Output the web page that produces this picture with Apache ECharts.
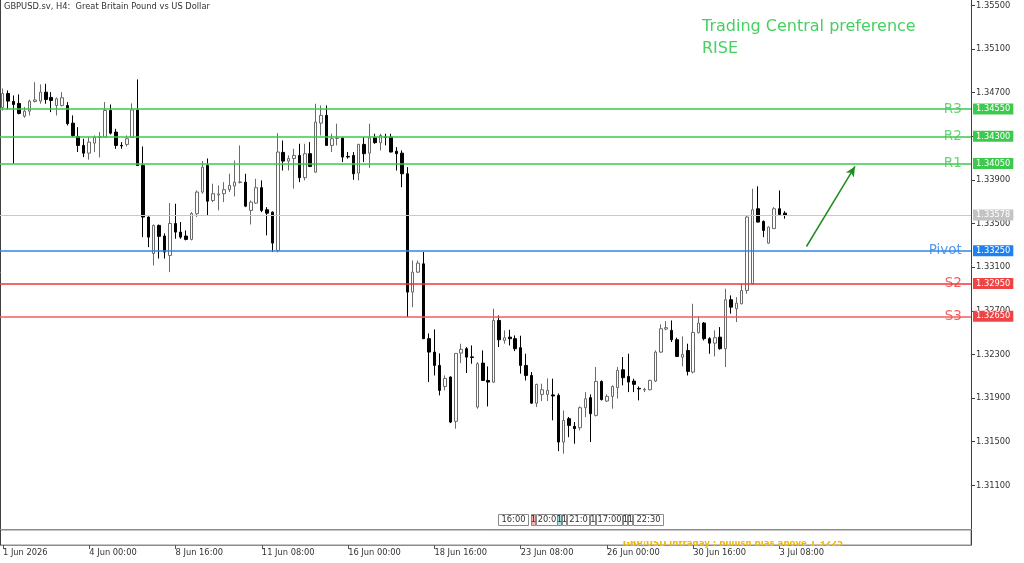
<!DOCTYPE html>
<html>
<head>
	<meta charset="UTF-8">
	<title>GBPUSD.sv, H4</title>
	<style>
		html, body { margin: 0; padding: 0; background: #fff; }
		#main { width: 1024px; height: 563px; }
	</style>
</head>
<body>
	<div id="main"></div>
	<script src="https://cdn.jsdelivr.net/npm/echarts@6/dist/echarts.min.js"></script>
	<script>
		// H4 bars, 1 Jun 08:00 .. 3 Jul 12:00
		var opens = [
			1.34565, 1.34693, 1.34620, 1.34602, 1.34485, 1.34531, 1.34620, 1.34623, 1.34705, 1.34657,
			1.34583, 1.34583, 1.34583, 1.34421, 1.34299, 1.34217, 1.34146, 1.34238, 1.34290, 1.34293,
			1.34537, 1.34339, 1.34217, 1.34226, 1.34290, 1.34542, 1.34033, 1.33560, 1.33226, 1.33483,
			1.33386, 1.33208, 1.33501, 1.33422, 1.33386, 1.33355, 1.33591, 1.33789, 1.34033, 1.33712,
			1.33763, 1.33774, 1.33811, 1.33844, 1.33877, 1.33880, 1.33621, 1.33688, 1.33829, 1.33627,
			1.33605, 1.33254, 1.34153, 1.34073, 1.34097, 1.34125, 1.33921, 1.34141, 1.33972, 1.34421,
			1.34492, 1.34217, 1.34281, 1.34284, 1.34116, 1.34125, 1.33963, 1.34226, 1.34146, 1.34287,
			1.34242, 1.34295, 1.34293, 1.34164, 1.34146, 1.33957, 1.32872, 1.33055, 1.33131, 1.32445,
			1.32322, 1.32200, 1.32007, 1.32093, 1.31687, 1.32313, 1.32353, 1.32278, 1.31818, 1.32221,
			1.32062, 1.32047, 1.32612, 1.32429, 1.32459, 1.32445, 1.32362, 1.32200, 1.32108, 1.31854,
			1.31934, 1.31934, 1.31929, 1.31925, 1.31497, 1.31711, 1.31641, 1.31629, 1.31812, 1.31904,
			1.31742, 1.32053, 1.31873, 1.31916, 1.31995, 1.32160, 1.32099, 1.32056, 1.31989, 1.31975,
			1.31977, 1.32056, 1.32322, 1.32533, 1.32521, 1.32435, 1.32276, 1.32337, 1.32139, 1.32500,
			1.32588, 1.32445, 1.32404, 1.32459, 1.32353, 1.32802, 1.32720, 1.32765, 1.32887, 1.32949,
			1.33636, 1.33520, 1.33321, 1.33454, 1.33636, 1.33596
		];
		var closes = [
			1.34693, 1.34623, 1.34592, 1.34510, 1.34531, 1.34623, 1.34634, 1.34705, 1.34638, 1.34629,
			1.34645, 1.34654, 1.34416, 1.34308, 1.34217, 1.34146, 1.34247, 1.34293, 1.34295, 1.34537,
			1.34329, 1.34217, 1.34212, 1.34278, 1.34542, 1.34033, 1.33560, 1.33376, 1.33483, 1.33383,
			1.33239, 1.33501, 1.33422, 1.33376, 1.33355, 1.33593, 1.33789, 1.34018, 1.33706, 1.33774,
			1.33772, 1.33811, 1.33850, 1.33880, 1.33882, 1.33660, 1.33697, 1.33829, 1.33621, 1.33596,
			1.33321, 1.34156, 1.34073, 1.34097, 1.34125, 1.33921, 1.34141, 1.34024, 1.34431, 1.34492,
			1.34217, 1.34278, 1.34285, 1.34110, 1.34111, 1.33957, 1.34226, 1.34141, 1.34287, 1.34242,
			1.34308, 1.34290, 1.34156, 1.34141, 1.33957, 1.32872, 1.33055, 1.33138, 1.32445, 1.32322,
			1.32200, 1.31971, 1.32081, 1.31680, 1.32310, 1.32347, 1.32276, 1.32273, 1.32215, 1.32062,
			1.32047, 1.32612, 1.32435, 1.32454, 1.32445, 1.32353, 1.32200, 1.32108, 1.31854, 1.32026,
			1.31977, 1.31971, 1.31920, 1.31497, 1.31696, 1.31650, 1.31620, 1.31812, 1.31894, 1.31757,
			1.32053, 1.31886, 1.31916, 1.32007, 1.32154, 1.32087, 1.32047, 1.32026, 1.31984, 1.31980,
			1.32062, 1.32322, 1.32536, 1.32546, 1.32435, 1.32282, 1.32301, 1.32145, 1.32502, 1.32588,
			1.32445, 1.32404, 1.32454, 1.32353, 1.32802, 1.32734, 1.32771, 1.32887, 1.33560, 1.33627,
			1.33514, 1.33437, 1.33468, 1.33636, 1.33584, 1.33578
		];
		var lows = [
			1.34537, 1.34546, 1.34051, 1.34501, 1.34470, 1.34492, 1.34611, 1.34599, 1.34599, 1.34522,
			1.34492, 1.34574, 1.34400, 1.34293, 1.34156, 1.34110, 1.34086, 1.34156, 1.34107, 1.34290,
			1.34317, 1.34186, 1.34186, 1.34207, 1.34285, 1.34029, 1.33376, 1.33284, 1.33117, 1.33180,
			1.33180, 1.33055, 1.33361, 1.33361, 1.33346, 1.33346, 1.33560, 1.33774, 1.33575, 1.33697,
			1.33621, 1.33697, 1.33789, 1.33749, 1.33868, 1.33651, 1.33492, 1.33682, 1.33605, 1.33392,
			1.33239, 1.33236, 1.33987, 1.33987, 1.33820, 1.33880, 1.33896, 1.34018, 1.33969, 1.34308,
			1.34212, 1.34156, 1.34217, 1.34064, 1.34095, 1.33902, 1.33896, 1.34064, 1.34012, 1.34232,
			1.34171, 1.34217, 1.34153, 1.33987, 1.33834, 1.32643, 1.32734, 1.33046, 1.32441, 1.32047,
			1.32108, 1.31925, 1.31971, 1.31671, 1.31620, 1.32221, 1.32130, 1.32215, 1.31803, 1.32058,
			1.31824, 1.32038, 1.32368, 1.32399, 1.32383, 1.32331, 1.32124, 1.32062, 1.31849, 1.31818,
			1.31873, 1.31873, 1.31696, 1.31414, 1.31390, 1.31542, 1.31482, 1.31604, 1.31726, 1.31497,
			1.31732, 1.31879, 1.31864, 1.31803, 1.31895, 1.32017, 1.31955, 1.31955, 1.31879, 1.31955,
			1.31971, 1.32047, 1.32313, 1.32521, 1.32414, 1.32276, 1.32191, 1.32108, 1.32126, 1.32493,
			1.32429, 1.32307, 1.32282, 1.32344, 1.32185, 1.32674, 1.32597, 1.32759, 1.32857, 1.32942,
			1.33511, 1.33376, 1.33315, 1.33450, 1.33575, 1.33545
		];
		var highs = [
			1.34739, 1.34721, 1.34675, 1.34684, 1.34568, 1.34636, 1.34797, 1.34776, 1.34782, 1.34705,
			1.34657, 1.34705, 1.34614, 1.34492, 1.34384, 1.34278, 1.34293, 1.34308, 1.34339, 1.34614,
			1.34592, 1.34369, 1.34247, 1.34308, 1.34602, 1.34822, 1.34207, 1.33566, 1.33492, 1.33492,
			1.33410, 1.33688, 1.33682, 1.33514, 1.33437, 1.33605, 1.33804, 1.34073, 1.34097, 1.33866,
			1.33850, 1.33880, 1.33957, 1.34079, 1.34217, 1.33957, 1.33712, 1.33911, 1.33896, 1.33651,
			1.33612, 1.34329, 1.34262, 1.34125, 1.34186, 1.34232, 1.34232, 1.34247, 1.34599, 1.34583,
			1.34583, 1.34324, 1.34416, 1.34293, 1.34156, 1.34156, 1.34232, 1.34293, 1.34416, 1.34324,
			1.34324, 1.34324, 1.34324, 1.34201, 1.34171, 1.34018, 1.33162, 1.33162, 1.33239, 1.32493,
			1.32530, 1.32310, 1.32108, 1.32099, 1.32313, 1.32399, 1.32368, 1.32383, 1.32230, 1.32337,
			1.32191, 1.32720, 1.32658, 1.32521, 1.32527, 1.32475, 1.32472, 1.32307, 1.32139, 1.32032,
			1.32032, 1.32081, 1.32078, 1.31943, 1.31787, 1.31727, 1.31681, 1.31824, 1.31955, 1.31934,
			1.32185, 1.32062, 1.31934, 1.32017, 1.32185, 1.32276, 1.32307, 1.32078, 1.32007, 1.31995,
			1.32069, 1.32337, 1.32576, 1.32606, 1.32612, 1.32454, 1.32466, 1.32399, 1.32765, 1.32649,
			1.32597, 1.32459, 1.32521, 1.32551, 1.32903, 1.32842, 1.32826, 1.32949, 1.33575, 1.33820,
			1.33841, 1.33529, 1.33474, 1.33651, 1.33804, 1.33614
		];

		var tickLabels = ['1 Jun 2026', '4 Jun 00:00', '8 Jun 16:00', '11 Jun 08:00', '16 Jun 00:00',
			'18 Jun 16:00', '23 Jun 08:00', '26 Jun 00:00', '30 Jun 16:00', '3 Jul 08:00'];
		var tickStep = 16;
		var slotCount = 180; // bars + empty space to the right

		var levelNames = ['R3', 'R2', 'R1', 'Pivot', 'S2', 'S3'];
		var levelValues = [1.3455, 1.3430, 1.3405, 1.3325, 1.3295, 1.3265];
		var lastPrice = 1.33578;

		// trend arrow, [bar index, price]
		var arrowFrom = [149, 1.33290];
		var arrowTo = [158, 1.34024];

		var levelLineColors = ['#3cc94e', '#3cc94e', '#3cc94e', '#2f86ea', '#ee3535', '#f25e5e'];
		var levelBoxColors = ['#3cc94e', '#3cc94e', '#3cc94e', '#1f80f0', '#f04444', '#f04444'];
		var levelTextColors = ['#3ecb55', '#3ecb55', '#3ecb55', '#2f82e6', '#ec3a3a', '#ec3a3a'];

		var FONT = '"DejaVu Sans", Tahoma, sans-serif';

		var slots = [];
		for (var i = 0; i < slotCount; i++) slots.push(i);

		var candles = [];
		for (var i = 0; i < opens.length; i++) {
			candles.push([opens[i], closes[i], lows[i], highs[i]]);
		}

		var lineItems = [];
		var nameItems = [];
		for (var i = 0; i < levelValues.length; i++) {
			lineItems.push({
				yAxis: levelValues[i],
				lineStyle: { color: levelLineColors[i], width: 1.6, type: 'solid' },
				label: { backgroundColor: levelBoxColors[i], formatter: levelValues[i].toFixed(5) }
			});
			nameItems.push({
				value: [slotCount - 1, levelValues[i]],
				label: { color: levelTextColors[i], formatter: levelNames[i] }
			});
		}
		lineItems.unshift({
			yAxis: lastPrice,
			lineStyle: { color: '#c9c9c9', width: 1, type: 'solid' },
			label: { backgroundColor: '#c3c3c3', formatter: lastPrice.toFixed(5) }
		});

		function showTick(idx) {
			return idx % tickStep === 0 && idx / tickStep < tickLabels.length;
		}

		// time markers strip near the bottom
		var markerTexts = ['16:00', '1', '20:0', '1', '1', '21:0', '1', '17:00', '1', '1', '22:30'];
		var markerX = [498, 531, 536, 557, 562, 567, 590, 596, 623, 628, 633];
		var markerW = [30, 4, 21, 4, 4, 22, 5, 26, 4, 4, 30];
		var markerFill = ['#fff', '#f4b4b4', '#fff', '#a8e0e0', '#fff', '#fff', '#fff', '#fff', '#fff', '#fff', '#fff'];

		var graphics = [
			{ type: 'line', shape: { x1: 0.5, y1: 0, x2: 0.5, y2: 545 }, style: { stroke: '#404040', lineWidth: 1 } },
			{ type: 'text', x: 4, y: 7, style: { text: 'GBPUSD.sv, H4:  Great Britain Pound vs US Dollar', font: '8.3px ' + FONT, fill: '#333', verticalAlign: 'middle' } },
			{ type: 'text', x: 702, y: 27, style: { text: 'Trading Central preference', font: '16px ' + FONT, fill: '#47cf62', verticalAlign: 'middle' } },
			{ type: 'text', x: 702, y: 49, style: { text: 'RISE', font: '16px ' + FONT, fill: '#47cf62', verticalAlign: 'middle' } },
			{ type: 'text', x: 623, y: 543.5, z: 1, style: { text: 'GBP/USD intraday : bullish bias above 1.3225', font: 'bold 8.6px ' + FONT, fill: '#f2b705', verticalAlign: 'middle' } },
			{ type: 'rect', z: 2, shape: { x: 600, y: 531, width: 250, height: 10 }, style: { fill: '#fff' } }
		];
		for (var i = 0; i < markerTexts.length; i++) {
			graphics.push({
				type: 'rect', z: 3,
				shape: { x: markerX[i] + 0.5, y: 514.5, width: markerW[i], height: 11 },
				style: { fill: markerFill[i], stroke: '#8a8a8a', lineWidth: 1 }
			});
			graphics.push({
				type: 'text', z: 4,
				x: markerX[i] + markerW[i] / 2 + 0.5, y: 520,
				style: { text: markerTexts[i], font: '8.3px ' + FONT, fill: '#333', align: 'center', verticalAlign: 'middle' }
			});
		}

		var option = {
			animation: false,
			textStyle: { fontFamily: FONT },
			graphic: graphics,
			grid: [
				{ left: -1.2, right: 53, top: 0, height: 529 },
				{ left: -1.2, right: 53, top: 530, height: 15, show: true, borderColor: '#8c8c8c', borderWidth: 1 }
			],
			xAxis: [
				{
					type: 'category', gridIndex: 0, data: slots, boundaryGap: true,
					axisLine: { show: true, lineStyle: { color: '#8c8c8c', width: 1 } },
					axisTick: { show: false }, axisLabel: { show: false }, splitLine: { show: false }
				},
				{
					type: 'category', gridIndex: 1, data: slots, boundaryGap: true,
					axisLine: { show: true, lineStyle: { color: '#8c8c8c', width: 1 } },
					axisTick: { show: true, alignWithLabel: true, interval: showTick, length: 4, lineStyle: { color: '#555' } },
					axisLabel: {
						interval: showTick, align: 'left', margin: 4, fontSize: 8.3, color: '#333',
						formatter: function (v, idx) { return tickLabels[idx / tickStep] || ''; }
					},
					splitLine: { show: false }
				}
			],
			yAxis: [
				{
					type: 'value', gridIndex: 0, position: 'right', scale: true,
					min: 1.307, max: 1.3555, interval: 0.004,
					axisLine: { show: true, lineStyle: { color: '#404040' } },
					axisTick: { show: true, length: 4, lineStyle: { color: '#404040' } },
					axisLabel: {
						margin: 5, fontSize: 8.3, color: '#333', showMinLabel: false, showMaxLabel: false,
						formatter: function (v) { return v.toFixed(5); }
					},
					splitLine: { show: false }
				},
				{
					type: 'value', gridIndex: 1, position: 'right',
					axisLine: { show: true, lineStyle: { color: '#404040' } },
					axisTick: { show: false }, axisLabel: { show: false }, splitLine: { show: false }
				}
			],
			series: [
				{
					type: 'candlestick',
					xAxisIndex: 0, yAxisIndex: 0,
					data: candles,
					barWidth: 3,
					itemStyle: {
						color: '#ffffff', color0: '#000000',
						borderColor: '#6a6a6a', borderColor0: '#000000', borderWidth: 1
					},
					markLine: {
						silent: true, symbol: ['none', 'none'], animation: false, precision: 5,
						label: {
							show: true, position: 'end', distance: 2, color: '#fff',
							fontSize: 8.3, padding: [2, 3, 1, 3]
						},
						data: lineItems
					}
				},
				{
					type: 'scatter',
					xAxisIndex: 0, yAxisIndex: 0,
					symbolSize: 1,
					itemStyle: { color: 'rgba(0,0,0,0)' },
					label: { show: true, position: 'left', distance: 6, fontSize: 13.5 },
					silent: true,
					data: nameItems
				},
				{
					type: 'line',
					xAxisIndex: 0, yAxisIndex: 0,
					data: [],
					markLine: {
						silent: true, symbol: ['none', 'arrow'], symbolSize: [7, 10], precision: 5,
						label: { show: false },
						lineStyle: { color: '#1e8c1e', width: 1.5, type: 'solid' },
						data: [[{ coord: arrowFrom }, { coord: arrowTo }]]
					}
				}
			]
		};

		var chart = echarts.init(document.getElementById('main'));
		chart.setOption(option);
	</script>
</body>
</html>
